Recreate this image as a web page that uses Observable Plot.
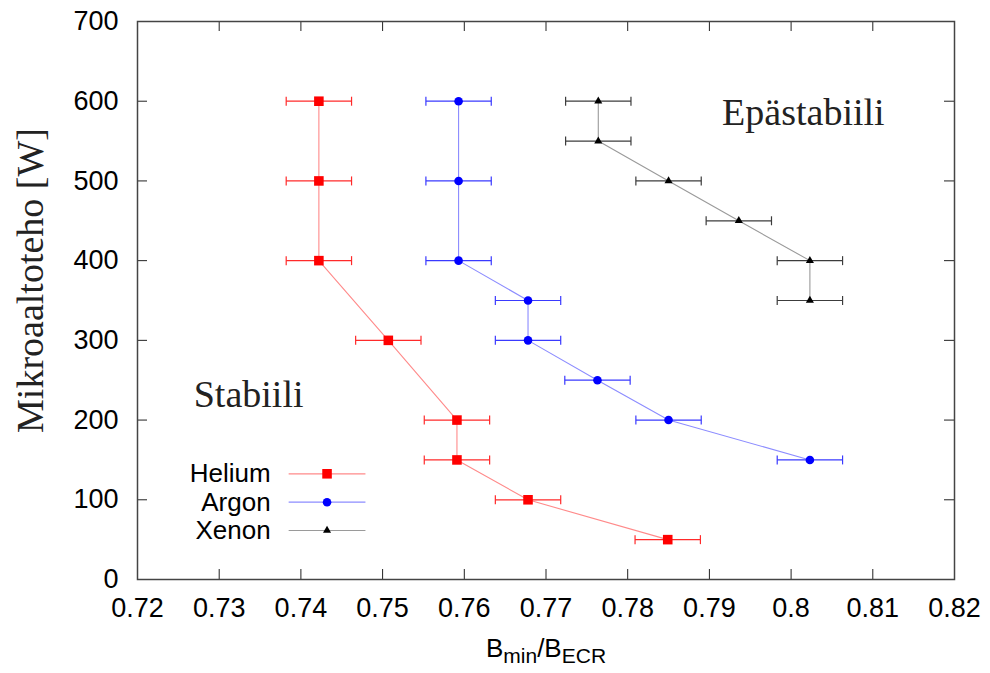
<!DOCTYPE html>
<html>
<head>
<meta charset="utf-8">
<script src="https://cdn.jsdelivr.net/npm/d3@7"></script>
<script src="https://cdn.jsdelivr.net/npm/@observablehq/plot@0.6"></script>
<style>
  body { margin: 0; background: #fff; }
  #chart svg { display: block; }
</style>
</head>
<body>
<div id="chart"></div>
<script>
// ---- data ----
const heliumX = [0.7422, 0.7422, 0.7422, 0.7507, 0.7591, 0.7591, 0.7678, 0.7849];
const heliumY = [600, 500, 400, 300, 200, 150, 100, 50];
const argonX  = [0.7593, 0.7593, 0.7593, 0.7678, 0.7678, 0.7763, 0.7850, 0.8023];
const argonY  = [600, 500, 400, 350, 300, 250, 200, 150];
const xenonX  = [0.7764, 0.7764, 0.7850, 0.7936, 0.8023, 0.8023];
const xenonY  = [600, 550, 500, 450, 400, 350];
const xError  = 0.004;

const seriesNames = ["Helium", "Argon", "Xenon"];
const xTicks = [0.72, 0.73, 0.74, 0.75, 0.76, 0.77, 0.78, 0.79, 0.80, 0.81, 0.82];
const yTicks = [0, 100, 200, 300, 400, 500, 600, 700];

const xLabel = "B_min/B_ECR";
const yLabel = "Mikroaaltoteho [W]";
const regionLabels = ["Stabiili", "Epästabiili"];
const regionX = [0.7336, 0.8015];
const regionY = [216, 570];

// legend placement (data units inside the frame)
const legendY = [132.6, 97.0, 61.5];
const legendLineX = [0.7385, 0.7479];
const legendMarkX = 0.7432;
const legendTextX = 0.7363;

// ---- styling ----
const styles = {
  Helium: {line: "#ff8a8a", err: "#ff2a2a", fill: "#ff0000", symbol: "square", r: 5.4},
  Argon:  {line: "#8c8cff", err: "#3a3aff", fill: "#0000ff", symbol: "circle", r: 4.3},
  Xenon:  {line: "#9a9a9a", err: "#3c3c3c", fill: "#000000", symbol: "triangle", r: 3.0}
};

const makeRows = (name, xs, ys) => xs.map((x, i) => ({series: name, x, y: ys[i]}));
const data = {
  Helium: makeRows("Helium", heliumX, heliumY),
  Argon: makeRows("Argon", argonX, argonY),
  Xenon: makeRows("Xenon", xenonX, xenonY)
};

const capSymbol = {
  draw(context, size) {
    const h = Math.sqrt(size / Math.PI);
    context.moveTo(0, -h);
    context.lineTo(0, h);
  }
};

const W = 990, H = 673;
const mL = 137, mR = 36, mT = 21, mB = 94;
const plotW = W - mL - mR, plotH = H - mT - mB;
const tickLen = 10;

const marks = [];

// inward ticks on all four sides
marks.push(Plot.ruleX(xTicks, {x: d => d, stroke: "#222", strokeWidth: 1, insetTop: plotH - tickLen}));
marks.push(Plot.ruleX(xTicks, {x: d => d, stroke: "#222", strokeWidth: 1, insetBottom: plotH - tickLen}));
marks.push(Plot.ruleY(yTicks, {y: d => d, stroke: "#222", strokeWidth: 1, insetRight: plotW - tickLen}));
marks.push(Plot.ruleY(yTicks, {y: d => d, stroke: "#222", strokeWidth: 1, insetLeft: plotW - tickLen}));

// tick labels
marks.push(Plot.axisX(xTicks, {
  tickSize: 0, tickPadding: 18, fontSize: 27, label: null,
  tickFormat: d => String(+d.toFixed(2))
}));
marks.push(Plot.axisY(yTicks, {
  tickSize: 0, tickPadding: 19, fontSize: 27, label: null, tickFormat: d => String(d)
}));

// series
for (const name of seriesNames) {
  const s = styles[name];
  const rows = data[name];
  marks.push(Plot.line(rows, {x: "x", y: "y", stroke: s.line, strokeWidth: 1.1}));
  marks.push(Plot.link(rows, {x1: d => d.x - xError, x2: d => d.x + xError, y1: "y", y2: "y", stroke: s.err, strokeWidth: 1.2}));
  marks.push(Plot.dot(rows, {x: d => d.x - xError, y: "y", symbol: capSymbol, r: 4.5, stroke: s.err, strokeWidth: 1.2, fill: "none"}));
  marks.push(Plot.dot(rows, {x: d => d.x + xError, y: "y", symbol: capSymbol, r: 4.5, stroke: s.err, strokeWidth: 1.2, fill: "none"}));
  marks.push(Plot.dot(rows, {x: "x", y: "y", symbol: s.symbol, r: s.r, fill: s.fill, stroke: "none"}));
}

// legend
const legendRows = seriesNames.map((name, i) => ({name, y: legendY[i]}));
marks.push(Plot.link(legendRows, {x1: () => legendLineX[0], x2: () => legendLineX[1], y1: "y", y2: "y",
  stroke: d => styles[d.name].line, strokeWidth: 1.2}));
for (const name of seriesNames) {
  const s = styles[name];
  marks.push(Plot.dot(legendRows.filter(d => d.name === name), {x: () => legendMarkX, y: "y", symbol: s.symbol, r: s.r, fill: s.fill, stroke: "none"}));
}
marks.push(Plot.text(legendRows, {x: () => legendTextX, y: "y", text: "name", textAnchor: "end", lineAnchor: "middle", fontSize: 26, fill: "#000"}));

// region annotations (serif)
marks.push(Plot.text(regionLabels.map((t, i) => ({t, x: regionX[i], y: regionY[i]})), {
  x: "x", y: "y", text: "t", textAnchor: "middle", lineAnchor: "bottom",
  fontSize: 38, fontFamily: "'Liberation Serif', 'Times New Roman', serif", fill: "#222"
}));

// axis titles
marks.push(Plot.text([yLabel], {
  text: d => d, frameAnchor: "left", rotate: -90, textAnchor: "middle", lineAnchor: "bottom",
  dx: -95, dy: -20, fontSize: 38, fontFamily: "'Liberation Serif', 'Times New Roman', serif", fill: "#222"
}));
marks.push(Plot.text([xLabel], {
  text: d => d, frameAnchor: "bottom", textAnchor: "middle", lineAnchor: "bottom",
  dy: 77, fontSize: 26, fill: "#000"
}));

// frame
marks.push(Plot.frame({stroke: "#444", strokeWidth: 1.5}));

const chart = Plot.plot({
  width: W, height: H,
  marginLeft: mL, marginRight: mR, marginTop: mT, marginBottom: mB,
  x: {domain: [0.72, 0.82]},
  y: {domain: [0, 700]},
  style: {fontFamily: "'Liberation Sans', Arial, sans-serif", background: "#fff", color: "#000", overflow: "visible"},
  marks
});

document.getElementById("chart").appendChild(chart);

// subscripts in the x-axis title
d3.select(chart).selectAll("text").filter(function() { return this.textContent === xLabel; })
  .each(function() {
    const parts = xLabel.split("/").map(p => p.split("_"));
    const sel = d3.select(this);
    sel.text(null);
    parts.forEach((p, i) => {
      sel.append("tspan").attr("dy", i === 0 ? null : "-6").text((i > 0 ? "/" : "") + p[0]);
      sel.append("tspan").attr("dy", "6").attr("font-size", 21).text(p[1]);
    });
  });
</script>
</body>
</html>
